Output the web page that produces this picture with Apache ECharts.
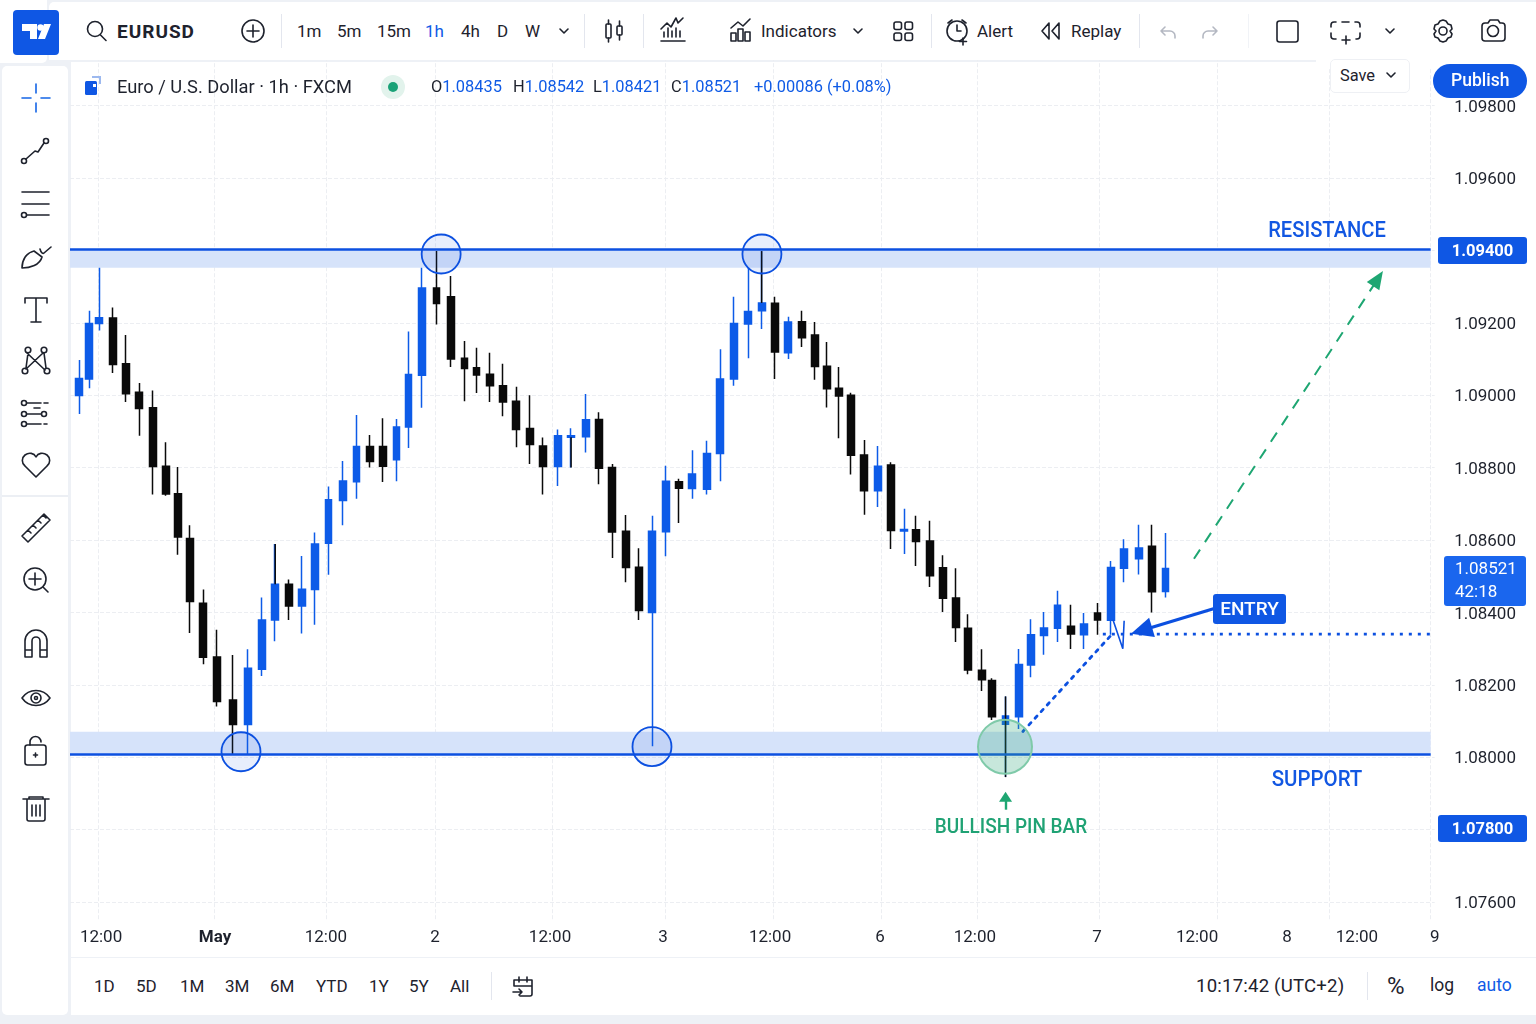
<!DOCTYPE html>
<html><head><meta charset="utf-8">
<style>
html,body{margin:0;padding:0;width:1536px;height:1024px;overflow:hidden;background:#eef1f6;font-family:Roboto,sans-serif;color:#1e222d}
#pane{position:absolute;left:71px;top:62px;width:1465px;height:895px;background:#fff}
#chart{position:absolute;left:0;top:0;width:1536px;height:1024px}
.p{position:absolute;background:#fff}
.t{position:absolute;line-height:1;transform:translateY(-50%);white-space:nowrap;font-size:17px;transform-origin:left center}
.b{color:#0f5be6}
#icons{position:absolute;left:0;top:0;width:1536px;height:1024px;pointer-events:none}
#icons .s{fill:none;stroke:#1e222d;stroke-width:1.6;stroke-linecap:round;stroke-linejoin:round}
#icons .g{fill:none;stroke:#b4b8c2;stroke-width:1.6;stroke-linecap:round;stroke-linejoin:round}
.d{position:absolute;width:1px;background:#e3e6ee}
</style></head><body>
<div id="pane"></div>
<div id="chart"></div>

<div class="p" style="left:0;top:0;width:47px;height:63px;border-radius:0 0 5px 0"></div>
<div class="p" style="left:49px;top:2px;width:1487px;height:58px;border-radius:5px 0 0 0"></div>
<div class="p" style="left:2px;top:66px;width:66px;height:949px;border-radius:5px"></div>
<div class="p" style="left:71px;top:958px;width:1465px;height:57px"></div>
<div class="p" style="left:1316px;top:60px;width:220px;height:8px"></div>
<div class="p" style="left:2px;top:495px;width:66px;height:2px;background:#eceff4"></div>
<div class="d" style="left:281px;top:14px;height:34px"></div>
<div class="d" style="left:584px;top:14px;height:34px"></div>
<div class="d" style="left:643px;top:14px;height:34px"></div>
<div class="d" style="left:931px;top:14px;height:34px"></div>
<div class="d" style="left:1139px;top:14px;height:34px"></div>
<div class="d" style="left:1248px;top:14px;height:34px;background:#f1f3f7"></div>
<div class="d" style="left:491px;top:972px;height:28px"></div>
<div class="d" style="left:1367px;top:972px;height:28px"></div>

<span class="t" style="left:117px;top:31px;font-size:19px;font-weight:700;letter-spacing:1px">EURUSD</span>
<span class="t" style="left:297px;top:31px">1m</span>
<span class="t" style="left:337px;top:31px">5m</span>
<span class="t" style="left:377px;top:31px">15m</span>
<span class="t b" style="left:425px;top:31px">1h</span>
<span class="t" style="left:461px;top:31px">4h</span>
<span class="t" style="left:497px;top:31px">D</span>
<span class="t" style="left:525px;top:31px">W</span>
<span class="t" style="left:761px;top:31px">Indicators</span>
<span class="t" style="left:977px;top:31px">Alert</span>
<span class="t" style="left:1071px;top:31px">Replay</span>

<span class="t" style="left:117px;top:87px;font-size:18.3px">Euro / U.S. Dollar · 1h · FXCM</span>
<span class="t" style="left:431px;top:87px;font-size:16.4px">O<span class="b">1.08435</span></span>
<span class="t" style="left:513px;top:87px;font-size:16.4px">H<span class="b">1.08542</span></span>
<span class="t" style="left:593px;top:87px;font-size:16.4px">L<span class="b">1.08421</span></span>
<span class="t" style="left:671px;top:87px;font-size:16.4px">C<span class="b">1.08521</span></span>
<span class="t b" style="left:754px;top:87px;font-size:16.4px">+0.00086 (+0.08%)</span>

<div class="p" style="left:1330px;top:59px;width:80px;height:34px;border:1px solid #eef0f4;box-sizing:border-box;border-radius:5px"></div>
<span class="t" style="left:1340px;top:76px;font-size:16.4px">Save</span>
<div class="p" style="left:1433px;top:64px;width:94px;height:34px;border-radius:17px;background:#0f57e4"></div>
<span class="t" style="left:1451px;top:81px;font-size:17.5px;font-weight:500;color:#fff">Publish</span>

<span class="t" style="left:94px;top:986px">1D</span>
<span class="t" style="left:136px;top:986px">5D</span>
<span class="t" style="left:180px;top:986px">1M</span>
<span class="t" style="left:225px;top:986px">3M</span>
<span class="t" style="left:270px;top:986px">6M</span>
<span class="t" style="left:316px;top:986px">YTD</span>
<span class="t" style="left:369px;top:986px">1Y</span>
<span class="t" style="left:409px;top:986px">5Y</span>
<span class="t" style="left:450px;top:986px">All</span>
<span class="t" style="left:1196px;top:986px;font-size:18.6px;letter-spacing:.2px">10:17:42 (UTC+2)</span>
<span class="t" style="left:1387px;top:986px;font-size:24px">%</span>
<span class="t" style="left:1430px;top:986px;font-size:17.5px">log</span>
<span class="t b" style="left:1477px;top:986px;font-size:17.5px">auto</span>

<svg id="icons" viewBox="0 0 1536 1024">
  <!-- logo -->
  <rect x="13" y="10" width="46" height="45" rx="4" fill="#0f57e4"/>
  <path d="M22 24h15v15h-7v-8h-8z M44 24h7l-6 15h-7z" fill="#fff"/>
  <circle cx="40.500" cy="27.500" r="3.200" fill="#fff"/>
  <!-- search, add -->
  <g class="s"><circle cx="95" cy="29" r="7.5"/><path d="M100.5 35l5.5 5.5"/>
  <circle cx="253" cy="31" r="11"/><path d="M253 25v12M247 31h12"/>
  <path d="M560 29l4 4 4-4"/>
  <!-- candles -->
  <rect x="606" y="24" width="5" height="14" rx="1"/><path d="M608.5 20v4M608.5 38v4"/>
  <rect x="617" y="26" width="5" height="9" rx="1"/><path d="M619.5 21v5M619.5 35v5"/>
  <!-- chart type -->
  <path d="M661 41h24M664 37v-5M668 37v-9M672 37v-6M676 37v-9M680 37v-6M661 29l6-6 4 4 5-9 2 5 5-5"/>
  <!-- indicators -->
  <path d="M731 28l7-6 5 4 7-7"/><rect x="731" y="33" width="5" height="8"/><rect x="738" y="29" width="5" height="12"/><rect x="745" y="32" width="5" height="9"/>
  <path d="M854 29l4 4 4-4"/>
  <rect x="894" y="22" width="7.5" height="7.5" rx="2"/><rect x="905" y="22" width="7.5" height="7.5" rx="2"/><rect x="894" y="33" width="7.5" height="7.5" rx="2"/><rect x="905" y="33" width="7.5" height="7.5" rx="2"/>
  <!-- alert -->
  <circle cx="957" cy="31" r="10"/><path d="M957 25v6h4M948 23l4-3M966 23l-4-3M963 38v7M959.5 41.5h7"/>
  <!-- replay -->
  <path d="M1049 23l-7 8 7 8zM1059 23l-7 8 7 8z"/>
  <!-- save chevron -->
  <path d="M1387 73l4 4 4-4"/>
  <rect x="1277" y="21" width="21" height="21" rx="2.5"/>
  <path d="M1331 27v-2a3 3 0 0 1 3-3h2M1342 22h7M1355 22h2a3 3 0 0 1 3 3v2M1360 33v3a3 3 0 0 1-3 3h-1M1336 39h-2a3 3 0 0 1-3-3v-3M1346 36v8M1342 40h8"/>
  <path d="M1386 29l4 4 4-4"/>
  <path d="M1443 20l3 1 2 3 3 1 1 4-2 2 2 3-1 3-3 1-2 3-3 1-3-1-2-3-3-1-1-3 2-3-2-2 1-4 3-1 2-3z"/><circle cx="1443" cy="31" r="4"/>
  <path d="M1482 26a3 3 0 0 1 3-3h3l2-3h8l2 3h2a3 3 0 0 1 3 3v12a3 3 0 0 1-3 3h-17a3 3 0 0 1-3-3z"/><circle cx="1493" cy="31" r="5.5"/>
  <!-- calendar -->
  <path d="M514 980h18v14a2 2 0 0 1-2 2h-10M514 986h18M519 977v5M527 977v5M514 980v6M513 992h9M519 989l3 3-3 3"/>

  <!-- sidebar -->
  <path d="M36 84v9M36 103v9M22 98h9M41 98h9" style="stroke:#1565e6"/>
  <circle cx="24" cy="161" r="2.5"/><circle cx="46" cy="141" r="2.5"/><path d="M26 159l9-8 3 1 6-9"/>
  <path d="M22 192h27M22 204h27"/><circle cx="24" cy="215" r="2.5"/><path d="M27 215h22"/>
  <path d="M22 268c0-8 4-15 12-17l8 6c-2 8-12 11-20 11zM40 249c1 4 3 5 4 4l7-6"/>
  <path d="M25 303v-5h22v5M36 298v24M31 322h10"/>
  <circle cx="28" cy="350" r="2.8"/><circle cx="44" cy="350" r="2.8"/><circle cx="25" cy="371" r="2.8"/><circle cx="47" cy="371" r="2.8"/><path d="M27 353l18 17M43 353l-17 16M26 368l2-15M46 368l-2-15"/>
  <circle cx="24" cy="403" r="2.5"/><path d="M27 403h14M44 403h4"/><circle cx="24" cy="414" r="2.5"/><circle cx="44" cy="414" r="2.5"/><path d="M27 414h14M34 408h6"/><circle cx="24" cy="424" r="2.5"/><path d="M27 424h14M44 424h3"/>
  <path d="M36 478l-11-11a7 7 0 0 1 0-11c4-3 9-2 11 2 2-4 7-5 11-2a7 7 0 0 1 0 11z" transform="translate(0 -1)"/>
  <path d="M22 536l22-22 6 6-22 22zM28 530l3 3M33 525l3 3M38 520l3 3M43 515l3 3"/>
  <circle cx="35" cy="579" r="11"/><path d="M35 573v12M29 579h12M43 587l5 5"/>
  <path d="M25 657v-16a11 11 0 0 1 22 0v16h-7v-16a4 4 0 0 0-8 0v16zM25 650h7M40 650h7"/>
  <path d="M22 698c7-10 21-10 28 0-7 10-21 10-28 0z"/><circle cx="36" cy="698" r="5"/><circle cx="36" cy="698" r="1.5"/>
  <rect x="25" y="745" width="21" height="20" rx="2.5"/><path d="M30 745v-3a5.500 5.500 0 0 1 11 0M35.500 753v4M33.500 755h4"/>
  <path d="M23 799h26M29 799v-2h14v2M27 799v20a2 2 0 0 0 2 2h14a2 2 0 0 0 2-2v-20M32 805v11M36 805v11M40 805v11"/>
  </g>
  <g class="g"><path d="M1165 27l-4 4 4 4M1161 31h9a5 5 0 0 1 5 5v2M1213 27l4 4-4 4M1217 31h-9a5 5 0 0 0-5 5v2"/></g>
  <!-- symbol icon -->
  <rect x="85" y="81" width="12" height="14" rx="1.500" fill="#0f57e4"/><path d="M92 77h8v7" fill="none" stroke="#9db9ef" stroke-width="2"/><rect x="93" y="84" width="3" height="3" fill="#fff"/>
  <circle cx="393" cy="87" r="12" fill="#e2f3ec"/><circle cx="393" cy="87" r="5" fill="#19a277"/>
</svg>

<script src="https://cdn.jsdelivr.net/npm/echarts@6/dist/echarts.min.js"></script>
<script>
// hourly bars, positions on the trading-time axis (bars since the first slot)
const barTimes = [0.5,1.25,2,3,4,5,6,7,7.9,8.8,9.8,10.8,12,13.16,14.2,15.2,16.2,17.2,18.2,19.2,20.3,21.3,22.3,23.3,24.3,25.2,26.2,27.3,28.4,29.4,30.3,31.3,32.3,33.3,34.3,35.3,36.4,37.4,38.5,39.5,40.5,41.5,42.5,43.5,44.5,45.5,46.5,47.6,48.6,49.6,50.7,51.7,52.7,53.7,54.7,55.7,56.6,57.5,58.4,59.4,60.4,61.4,62.4,63.3,64.3,65.3,66.3,67.2,68.2,69,70,71,71.9,72.9,73.9,74.9,75.9,76.9,77.9,78.9,80,81,82];
const opens = [1.08999,1.09045,1.09198,1.09213,1.09087,1.09008,1.08965,1.08804,1.08728,1.08604,1.08425,1.08277,1.08158,1.08090,1.08243,1.08379,1.08478,1.08418,1.08463,1.08591,1.08709,1.08761,1.08858,1.08858,1.08822,1.08912,1.09055,1.09296,1.09272,1.09102,1.09076,1.09058,1.09026,1.08983,1.08908,1.08860,1.08803,1.08884,1.08885,1.08933,1.08800,1.08624,1.08525,1.08400,1.08623,1.08761,1.08742,1.08740,1.08839,1.09045,1.09197,1.09233,1.09254,1.09117,1.09203,1.09166,1.09080,1.09019,1.09000,1.08835,1.08736,1.08807,1.08625,1.08628,1.08597,1.08523,1.08440,1.08356,1.08240,1.08212,1.08091,1.08112,1.08255,1.08336,1.08356,1.08362,1.08338,1.08398,1.08378,1.08522,1.08548,1.08583,1.08458];
const closes = [1.09046,1.09198,1.09214,1.09085,1.09004,1.08963,1.08803,1.08727,1.08608,1.08430,1.08276,1.08154,1.08090,1.08246,1.08379,1.08478,1.08418,1.08464,1.08589,1.08711,1.08763,1.08858,1.08817,1.08804,1.08912,1.09057,1.09296,1.09253,1.09100,1.09074,1.09056,1.09026,1.08981,1.08905,1.08864,1.08803,1.08888,1.08888,1.08932,1.08798,1.08622,1.08524,1.08405,1.08624,1.08762,1.08743,1.08782,1.08839,1.09045,1.09198,1.09231,1.09255,1.09119,1.09202,1.09159,1.09079,1.09018,1.08998,1.08834,1.08736,1.08804,1.08626,1.08629,1.08596,1.08501,1.08439,1.08358,1.08241,1.08214,1.08112,1.08114,1.08256,1.08338,1.08357,1.08420,1.08340,1.08368,1.08379,1.08524,1.08575,1.08578,1.08457,1.08521];
const lows = [1.08948,1.09019,1.09179,1.09061,1.08981,1.08888,1.08726,1.08722,1.08559,1.08343,1.08257,1.08140,1.08009,1.08009,1.08224,1.08320,1.08379,1.08342,1.08366,1.08504,1.08641,1.08714,1.08800,1.08760,1.08762,1.08854,1.08965,1.09195,1.09078,1.08983,1.09006,1.08981,1.08942,1.08856,1.08810,1.08726,1.08749,1.08800,1.08842,1.08754,1.08550,1.08483,1.08379,1.08030,1.08555,1.08647,1.08714,1.08726,1.08762,1.09026,1.09102,1.09183,1.09045,1.09100,1.09133,1.09043,1.08966,1.08881,1.08781,1.08670,1.08691,1.08575,1.08561,1.08528,1.08470,1.08401,1.08318,1.08229,1.08183,1.08103,1.07945,1.08078,1.08221,1.08283,1.08318,1.08299,1.08299,1.08338,1.08338,1.08483,1.08505,1.08400,1.08441];
const highs = [1.09097,1.09233,1.09352,1.09242,1.09166,1.09034,1.09013,1.08870,1.08802,1.08641,1.08463,1.08352,1.08282,1.08298,1.08441,1.08589,1.08491,1.08556,1.08621,1.08748,1.08818,1.08945,1.08890,1.08936,1.08934,1.09176,1.09352,1.09398,1.09329,1.09150,1.09131,1.09117,1.09087,1.09023,1.09000,1.08883,1.08905,1.08909,1.09003,1.08953,1.08810,1.08669,1.08577,1.08667,1.08805,1.08769,1.08848,1.08874,1.09127,1.09272,1.09352,1.09398,1.09272,1.09217,1.09233,1.09202,1.09147,1.09078,1.09007,1.08876,1.08860,1.08815,1.08686,1.08667,1.08653,1.08558,1.08522,1.08395,1.08298,1.08218,1.08168,1.08299,1.08381,1.08401,1.08460,1.08421,1.08398,1.08426,1.08542,1.08602,1.08642,1.08642,1.08619];
// wick segments that are black on blue-bodied bars: [bar, low, high]
const blackWicks = [[15.2,1.08478,1.08589],[37.4,1.08800,1.08884],[51.7,1.09255,1.09398],[70,1.07945,1.08168]];

const priceTicks = [1.076,1.078,1.080,1.082,1.084,1.086,1.088,1.090,1.092,1.094,1.096,1.098];
const timeLabelBars = [2.13,10.68,19,27.19,35.82,44.3,52.33,60.58,67.7,76.86,84.37,91.12,96.37,102.2];
const timeLabels = ['12:00','May','12:00','2','12:00','3','12:00','6','12:00','7','12:00','8','12:00','9'];
const timeGridBars = [1.9,10.6,19,27.2,36,44.5,52.55,60.7,67.9,77,85.87,94.27,101.85];

const resistanceLevel = 1.09403, resistanceBandLow = 1.09352;
const supportLevel = 1.08007, supportBandHigh = 1.0807;
const levelSpan = [-0.2,101.9];
const touchCircles = [[27.65,1.0939],[51.72,1.0939],[12.63,1.08015],[43.47,1.08029]];
const pinBarCircle = [[69.96,1.08029]];
const entryPrice = 1.0834;
const entryDiagonal = [[71.3,1.08071],[78,entryPrice]];
const entryLevelSpan = [77.3,102.2];
const entryArrow = [[85.6,1.0841],[80.2,1.0835]];
const pinSketch = [[78.06,1.0838],[78.8,1.082995],[78.9,1.08377]];
const targetArrow = [[84.14,1.08548],[97.95,1.09322]];
const pinArrow = [[70,1.07855],[70,1.07891]];

const BLUE='#0d5be8', LINE='#0c50e0', BLACK='#0a0a0a', GREEN='#1ea672', BAND='#d6e3fa';
const candleData = barTimes.map((t,i)=>[t,opens[i],closes[i],lows[i],highs[i]]);
const labelFor = v => { let k=0,b=1e9; timeLabelBars.forEach((t,i)=>{const d=Math.abs(t-v); if(d<b){b=d;k=i;}}); return timeLabels[k]; };

const tag=(x,y,w,h,text,font,fill)=>[
  {type:'rect',z:50,shape:{x,y,width:w,height:h,r:3},style:{fill:fill||'#0f57e4'}},
  {type:'text',z:51,style:{x:x+w/2,y:y+h/2+1,text,fill:'#fff',align:'center',verticalAlign:'middle',font}}
];
const note=(x,y,text,fill,font,sx)=>({type:'text',z:50,originX:x,originY:y,scaleX:sx,style:{x,y,text,fill,font,align:'center',verticalAlign:'middle'}});

const chart = echarts.init(document.getElementById('chart'),null,{width:1536,height:1024});
chart.setOption({
  animation:false,
  backgroundColor:'transparent',
  grid:{left:70,top:33.2,width:1364.66,height:886.9,containLabel:false},
  xAxis:{type:'value',min:-0.2,max:102.2,
    axisLine:{show:false},
    axisTick:{show:false,customValues:timeGridBars},
    splitLine:{show:true,lineStyle:{color:'#eceef2',type:'dashed',width:1}},
    axisLabel:{customValues:timeLabelBars,margin:9,fontFamily:'Roboto',fontSize:17,color:'#1e222d',
      hideOverlap:false,showMinLabel:true,showMaxLabel:true,
      formatter:v=>{const s=labelFor(v);return s==='May'?'{m|May}':s;},
      rich:{m:{fontFamily:'Roboto',fontSize:17,fontWeight:700,color:'#1e222d'}}}},
  yAxis:{type:'value',position:'right',min:1.0755,max:1.1,scale:true,
    axisLine:{show:false},
    axisTick:{show:false,customValues:priceTicks},
    splitLine:{show:true,lineStyle:{color:'#eceef2',type:'dashed',width:1}},
    axisLabel:{customValues:priceTicks,margin:19.5,verticalAlign:'top',lineHeight:4,fontFamily:'Roboto',fontSize:17,color:'#1e222d',formatter:v=>v.toFixed(5)}},
  series:[
    {name:'levels',type:'line',data:[],z:1,silent:true,symbol:'none',
      markArea:{silent:true,itemStyle:{color:BAND,opacity:1},z:1,data:[
        [{coord:[levelSpan[0],resistanceLevel]},{coord:[levelSpan[1],resistanceBandLow]}],
        [{coord:[levelSpan[0],supportBandHigh]},{coord:[levelSpan[1],supportLevel]}]]}},
    {name:'EURUSD',type:'candlestick',z:3,barWidth:7.4,
      itemStyle:{color:BLUE,color0:BLACK,borderColor:BLUE,borderColor0:BLACK,borderWidth:1.5},
      encode:{x:0,y:[1,2,3,4]},data:candleData},
    {name:'wicks',type:'custom',z:4,silent:true,clip:false,encode:{x:0,y:[1,2]},data:blackWicks,
      renderItem:(p,api)=>{const a=api.coord([api.value(0),api.value(1)]),b=api.coord([api.value(0),api.value(2)]);
        return {type:'line',shape:{x1:a[0],y1:a[1],x2:b[0],y2:b[1]},style:{stroke:BLACK,lineWidth:1.5}};}},
    {name:'levelLines',type:'line',data:[],z:5,silent:true,symbol:'none',
      markLine:{silent:true,animation:false,symbol:'none',label:{show:false},precision:6,data:[
        [{coord:[levelSpan[0],resistanceLevel],lineStyle:{color:LINE,width:2.5,type:'solid'}},{coord:[levelSpan[1],resistanceLevel]}],
        [{coord:[levelSpan[0],supportLevel],lineStyle:{color:LINE,width:2.5,type:'solid'}},{coord:[levelSpan[1],supportLevel]}],
        [{coord:targetArrow[0],symbol:'none',lineStyle:{color:GREEN,width:2,type:[11,9]}},{coord:targetArrow[1],symbol:'triangle',symbolSize:[15,18]}],
        [{coord:entryArrow[0],symbol:'none',lineStyle:{color:LINE,width:3.2,type:'solid'}},{coord:entryArrow[1],symbol:'triangle',symbolSize:[20,22]}],
        [{coord:pinArrow[0],symbol:'none',lineStyle:{color:GREEN,width:2.4,type:'solid'}},{coord:pinArrow[1],symbol:'triangle',symbolSize:[13,10]}]
      ]}},
    {name:'entry diagonal',type:'line',z:5,silent:true,symbol:'none',data:entryDiagonal,lineStyle:{color:LINE,width:2.8,type:[3,6],cap:'round'}},
    {name:'entry level',type:'line',z:5,silent:true,symbol:'none',clip:false,data:entryLevelSpan.map(t=>[t,entryPrice]),lineStyle:{color:LINE,width:2.6,type:[3,6]}},
    {name:'pin sketch',type:'line',z:5,silent:true,symbol:'none',data:pinSketch,lineStyle:{color:LINE,width:1.6}},
    {name:'touches',type:'scatter',z:6,silent:true,symbol:'circle',symbolSize:39,data:touchCircles,
      itemStyle:{color:'rgba(30,90,230,0.10)',borderColor:LINE,borderWidth:1.8,opacity:1}},
    {name:'pin bar',type:'scatter',z:6,silent:true,symbol:'circle',symbolSize:54,data:pinBarCircle,
      itemStyle:{color:'rgba(55,170,125,0.28)',borderColor:'#7fcaa9',borderWidth:2,opacity:1}}
  ],
  graphic:[
    note(1327,231,'RESISTANCE','#1257e2','500 22px Roboto',0.915),
    note(1317,780,'SUPPORT','#1257e2','500 22px Roboto',0.93),
    note(1011,828,'BULLISH PIN BAR','#1fa274','500 20px Roboto',0.95),
    ...tag(1213,594,73,30,'ENTRY','500 19px Roboto'),
    ...tag(1438,237,89,27,'1.09400','700 16.5px Roboto'),
    ...tag(1438,815,89,27,'1.07800','700 16.5px Roboto'),
    {type:'rect',z:50,shape:{x:1444,y:556,width:82,height:50,r:3},style:{fill:'#1a66ee'}},
    {type:'text',z:51,style:{x:1455,y:570,text:'1.08521',fill:'#fff',align:'left',verticalAlign:'middle',font:'400 17px Roboto'}},
    {type:'text',z:51,style:{x:1455,y:593,text:'42:18',fill:'#fff',align:'left',verticalAlign:'middle',font:'400 17px Roboto'}}
  ]
});
</script>
</body></html>
